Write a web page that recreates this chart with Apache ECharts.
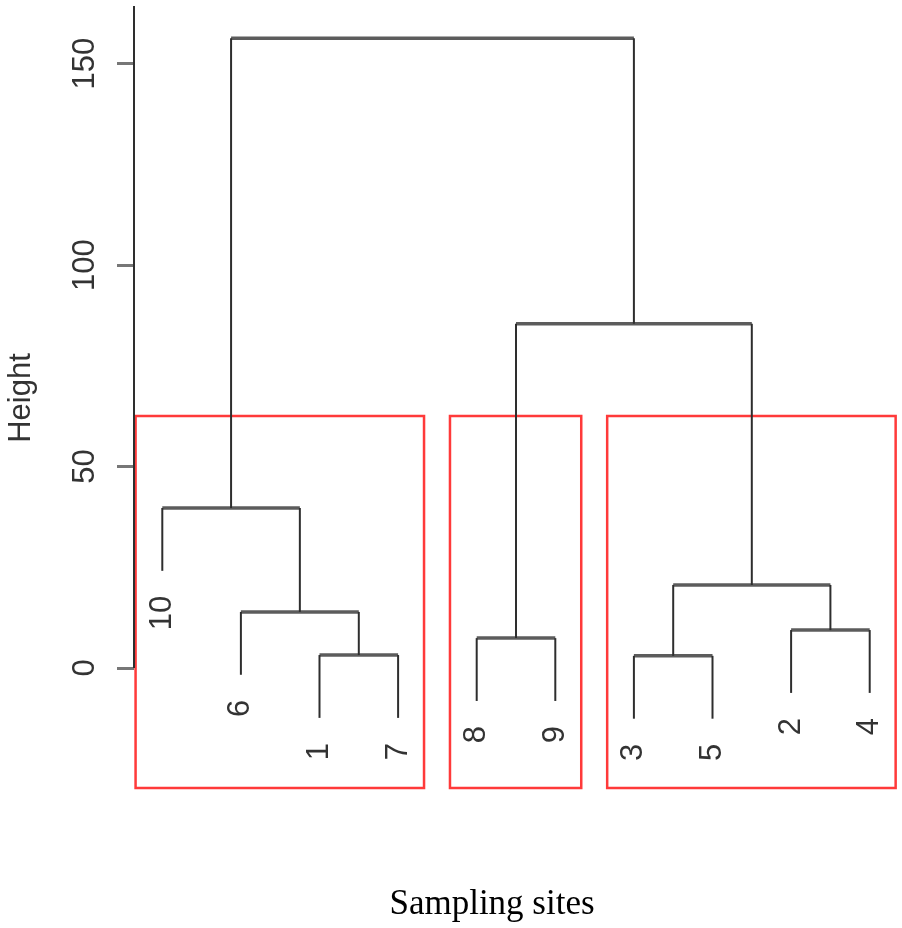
<!DOCTYPE html>
<html>
<head>
<meta charset="utf-8">
<script src="https://cdn.jsdelivr.net/npm/echarts@6/dist/echarts.min.js"></script>
<style>
html, body { margin: 0; padding: 0; background: #fff; }
#chart { width: 902px; height: 928px; }
</style>
</head>
<body>
<div id="chart"></div>
<script>
// leaves, left to right along the x axis
var leafLabels = ['10', '6', '1', '7', '8', '9', '3', '5', '2', '4'];
// hclust merge steps: negative = leaf id, positive = earlier step (1-based)
var mergeA = [-3, -1, -8, -2, -6, 1, -10, 3, 7];
var mergeB = [-5, -7, -9, -4, 2, 4, 5, 6, 8];
var mergeHeight = [3.0, 3.2, 7.4, 9.4, 13.9, 20.6, 39.7, 85.4, 156.3];
var hang = 15.6;
var yTicks = [0, 50, 100, 150];
// rect.hclust k = 3, first and last leaf position of each group
var boxFrom = [1, 5, 7];
var boxTo = [4, 6, 10];

var xMin = 0.64, xMax = 10.36;
var yMin = -30.3, yMax = 164.3;

// build the dendrogram segments
var nodeX = [];
var segV = [];   // vertical segments [x, y1, x, y2]
var segH = [];   // horizontal segments
var leafEnds = [];
function child(c, h) {
  if (c < 0) {
    var p = leafLabels.indexOf(String(-c)) + 1;
    leafEnds.push([p, h - hang, String(-c)]);
    return [p, h - hang];
  }
  return [nodeX[c - 1], mergeHeight[c - 1]];
}
for (var i = 0; i < mergeHeight.length; i++) {
  var h = mergeHeight[i];
  var a = child(mergeA[i], h);
  var b = child(mergeB[i], h);
  segV.push([a[0], a[1], a[0], h]);
  segV.push([b[0], b[1], b[0], h]);
  segH.push([a[0], h, b[0], h]);
  nodeX.push((a[0] + b[0]) / 2);
}
// axis line only from 0 up to the top
segV.push([xMin, 0, xMin, yMax]);

var n = mergeHeight.length;
var boxTop = (mergeHeight[n - 3] + mergeHeight[n - 2]) / 2;
var boxes = [];
for (var j = 0; j < boxFrom.length; j++) {
  boxes.push([boxFrom[j] - 0.34, boxTop, boxTo[j] + 0.33, yMin + 0.5]);
}

function segRender(color, width) {
  return function (params, api) {
    var p1 = api.coord([api.value(0), api.value(1)]);
    var p2 = api.coord([api.value(2), api.value(3)]);
    return {
      type: 'line',
      shape: { x1: p1[0], y1: p1[1], x2: p2[0], y2: p2[1] },
      style: { stroke: color, lineWidth: width }
    };
  };
}

var chart = echarts.init(document.getElementById('chart'));
var option = {
  animation: false,
  backgroundColor: '#fff',
  grid: { left: 134, right: 4, top: 6, bottom: 138, outerBoundsMode: 'none', containLabel: false },
  xAxis: {
    type: 'value', min: xMin, max: xMax,
    show: false
  },
  yAxis: {
    type: 'value', min: yMin, max: yMax,
    name: 'Height',
    nameLocation: 'middle',
    nameRotate: 90,
    nameGap: 97,
    nameTextStyle: { fontFamily: 'Liberation Sans', fontSize: 31, color: '#333' },
    splitLine: { show: false },
    axisLine: { show: false },
    axisTick: {
      show: true, length: 17, customValues: yTicks,
      lineStyle: { color: '#777', width: 3 }
    },
    axisLabel: {
      rotate: 90, margin: 33, customValues: yTicks,
      fontFamily: 'Liberation Sans', fontSize: 31, color: '#333'
    }
  },
  graphic: [{
    type: 'text',
    x: 492, y: 905,
    style: {
      text: 'Sampling sites',
      font: '35px "Liberation Serif"',
      fill: '#000',
      align: 'center',
      verticalAlign: 'middle'
    }
  }],
  series: [
    {
      type: 'custom',
      data: boxes,
      renderItem: function (params, api) {
        var p1 = api.coord([api.value(0), api.value(1)]);
        var p2 = api.coord([api.value(2), api.value(3)]);
        return {
          type: 'rect',
          shape: { x: p1[0], y: p1[1], width: p2[0] - p1[0], height: p2[1] - p1[1] },
          style: { fill: null, stroke: '#ff3a3a', lineWidth: 2.5 }
        };
      },
      z: 1
    },
    {
      type: 'custom',
      data: segH,
      renderItem: segRender('#5c5c5c', 3.5),
      z: 2
    },
    {
      type: 'custom',
      data: segV,
      renderItem: segRender('#2e2e2e', 2),
      z: 3
    },
    {
      type: 'custom',
      data: leafEnds,
      renderItem: function (params, api) {
        var p = api.coord([api.value(0), api.value(1)]);
        return {
          type: 'text',
          x: p[0],
          y: p[1] + 25,
          rotation: Math.PI / 2,
          style: {
            text: leafEnds[params.dataIndex][2],
            font: '31px "Liberation Sans"',
            fill: '#333',
            align: 'right',
            verticalAlign: 'middle'
          }
        };
      },
      z: 4
    }
  ]
};
chart.setOption(option);
</script>
</body>
</html>
